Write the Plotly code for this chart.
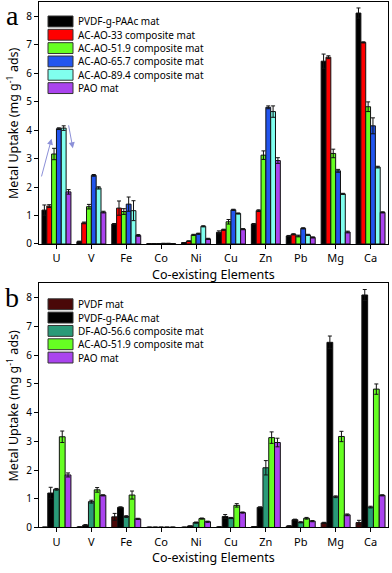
import plotly.graph_objects as go

elements = ['U', 'V', 'Fe', 'Co', 'Ni', 'Cu', 'Zn', 'Pb', 'Mg', 'Ca']

# panel a
names_a = ['PVDF-g-PAAc mat', 'AC-AO-33 composite mat', 'AC-AO-51.9 composite mat',
           'AC-AO-65.7 composite mat', 'AC-AO-89.4 composite mat', 'PAO mat']
vals_a = [
    [1.19, 0.08, 0.70, 0.01, 0.05, 0.41, 0.70, 0.28, 6.42, 8.11],
    [1.33, 0.74, 1.26, 0.01, 0.10, 0.50, 1.17, 0.34, 6.56, 7.08],
    [3.16, 1.31, 1.14, 0.01, 0.32, 0.78, 3.12, 0.28, 3.18, 4.82],
    [4.05, 2.41, 1.40, 0.02, 0.36, 1.20, 4.80, 0.55, 2.57, 4.15],
    [4.07, 1.97, 1.17, 0.02, 0.62, 1.07, 4.65, 0.32, 1.76, 2.70],
    [1.83, 1.12, 0.30, 0.01, 0.18, 0.52, 2.93, 0.23, 0.42, 1.11],
]
errs_a = [
    [0.18, 0.02, 0.02, 0.0, 0.0, 0.05, 0.02, 0.02, 0.25, 0.18],
    [0.05, 0.03, 0.25, 0.0, 0.01, 0.02, 0.03, 0.02, 0.05, 0.02],
    [0.20, 0.08, 0.10, 0.0, 0.02, 0.08, 0.15, 0.03, 0.15, 0.17],
    [0.03, 0.03, 0.25, 0.0, 0.02, 0.02, 0.05, 0.02, 0.05, 0.28],
    [0.08, 0.04, 0.35, 0.0, 0.02, 0.02, 0.20, 0.02, 0.02, 0.03],
    [0.08, 0.03, 0.03, 0.0, 0.02, 0.02, 0.10, 0.02, 0.03, 0.02],
]

# panel b
names_b = ['PVDF mat', 'PVDF-g-PAAc mat', 'DF-AO-56.6 composite mat',
           'AC-AO-51.9 composite mat', 'PAO mat']
vals_b = [
    [0.01, 0.02, 0.37, 0.01, 0.01, 0.02, 0.03, 0.05, 0.16, 0.17],
    [1.20, 0.08, 0.70, 0.01, 0.05, 0.38, 0.70, 0.27, 6.45, 8.10],
    [1.33, 0.90, 0.38, 0.01, 0.17, 0.33, 2.08, 0.18, 1.07, 0.71],
    [3.16, 1.31, 1.13, 0.01, 0.31, 0.77, 3.13, 0.32, 3.17, 4.82],
    [1.83, 1.12, 0.30, 0.01, 0.20, 0.52, 2.96, 0.22, 0.44, 1.12],
]
errs_b = [
    [0.0, 0.0, 0.12, 0.0, 0.0, 0.0, 0.0, 0.01, 0.02, 0.08],
    [0.20, 0.02, 0.02, 0.0, 0.0, 0.07, 0.02, 0.02, 0.22, 0.19],
    [0.03, 0.05, 0.03, 0.0, 0.02, 0.02, 0.25, 0.02, 0.03, 0.03],
    [0.20, 0.08, 0.14, 0.0, 0.02, 0.06, 0.20, 0.03, 0.18, 0.18],
    [0.07, 0.02, 0.02, 0.0, 0.02, 0.02, 0.15, 0.02, 0.03, 0.02],
]

cols_a = ['#000000', '#ff0000', '#66ff22', '#2255ee', '#80ffee', '#aa44ee']
cols_b = ['#4a0808', '#000000', '#2a9a78', '#66ff22', '#aa44ee']

FONT = 'Noto Sans'
W, H = 392, 573
x_dom = [39 / W, 388 / W]
ya_dom = [1 - 247 / H, 1 - 2 / H]
yb_dom = [1 - 534 / H, 1 - 287 / H]

fig = go.Figure()


def add_panel(names, vals, errs, cols, xa, ya):
    for n, v, e, c in zip(names, vals, errs, cols):
        fig.add_trace(go.Bar(
            x=elements, y=v, name=n, xaxis=xa, yaxis=ya, showlegend=False,
            marker=dict(color=c, line=dict(color='#111111', width=1)),
            error_y=dict(type='data', array=e, color='#111111', thickness=1, width=2),
        ))


add_panel(names_a, vals_a, errs_a, cols_a, 'x', 'y')
add_panel(names_b, vals_b, errs_b, cols_b, 'x2', 'y2')

xax = dict(domain=x_dom, range=[-0.5, 9.5], showline=True, linecolor='black', linewidth=1,
           mirror=True, ticks='outside', ticklen=4, tickcolor='black',
           tickfont=dict(family=FONT, size=11, color='black'))
yax = dict(range=[0, 8.5], dtick=1, showline=True, linecolor='black', linewidth=1,
           mirror=True, ticks='outside', ticklen=4, tickcolor='black', showgrid=False,
           zeroline=False, tickfont=dict(family=FONT, size=10, color='black'))

fig.update_layout(
    width=W, height=H, margin=dict(l=0, r=0, t=0, b=0),
    paper_bgcolor='white', plot_bgcolor='white',
    barmode='group', bargap=0.17, bargroupgap=0,
    font=dict(family=FONT, color='black'),
    xaxis=dict(xax, anchor='y'),
    yaxis=dict(yax, domain=ya_dom, anchor='x'),
    xaxis2=dict(xax, anchor='y2'),
    yaxis2=dict(yax, domain=yb_dom, anchor='x2'),
)

# custom legends with wide swatches
def legend(names, cols, top_px):
    for i, (n, c) in enumerate(zip(names, cols)):
        yc = top_px + i * 13.5
        fig.add_shape(type='rect', xref='paper', yref='paper',
                      x0=48 / W, x1=73 / W, y0=1 - (yc + 5.5) / H, y1=1 - (yc - 5.5) / H,
                      fillcolor=c, line=dict(color='#333333', width=1))
        fig.add_annotation(x=76 / W, y=1 - yc / H, xref='paper', yref='paper', text=n,
                           showarrow=False, xanchor='left', yanchor='middle',
                           font=dict(family=FONT, size=10, color='black'))


legend(names_a, cols_a, 21.7)
legend(names_b, cols_b, 308)

# axis titles and panel letters
ytitle = 'Metal Uptake (mg g<sup>-1</sup> ads)'
for yc in [124.5, 410.5]:
    fig.add_annotation(x=13 / W, y=1 - yc / H, xref='paper', yref='paper', text=ytitle,
                       textangle=-90, showarrow=False, xanchor='center', yanchor='middle',
                       font=dict(family=FONT, size=12.5, color='black'))
for yc in [278, 564]:
    fig.add_annotation(x=213.5 / W, y=1 - yc / H, xref='paper', yref='paper',
                       text='Co-existing Elements', showarrow=False,
                       xanchor='center', yanchor='middle',
                       font=dict(family=FONT, size=12.5, color='black'))
for t, yc in [('a', 16), ('b', 301)]:
    fig.add_annotation(x=12 / W, y=1 - yc / H, xref='paper', yref='paper', text=t,
                       showarrow=False, xanchor='center', yanchor='middle',
                       font=dict(family='Liberation Serif', size=28, color='black'))

# arrows around the U group in panel a
for (x0, y0), (x1, y1) in [((-0.44, 2.32), (-0.14, 3.70)), ((0.34, 4.22), (0.47, 3.36))]:
    fig.add_annotation(x=x1, y=y1, ax=x0, ay=y0, xref='x', yref='y', axref='x', ayref='y',
                       showarrow=True, arrowhead=2, arrowsize=1.2, arrowwidth=1,
                       arrowcolor='#8c90d8', text='')

fig.write_html('out.html', config={'displayModeBar': False},
               post_script="document.body.style.margin='0px';")
